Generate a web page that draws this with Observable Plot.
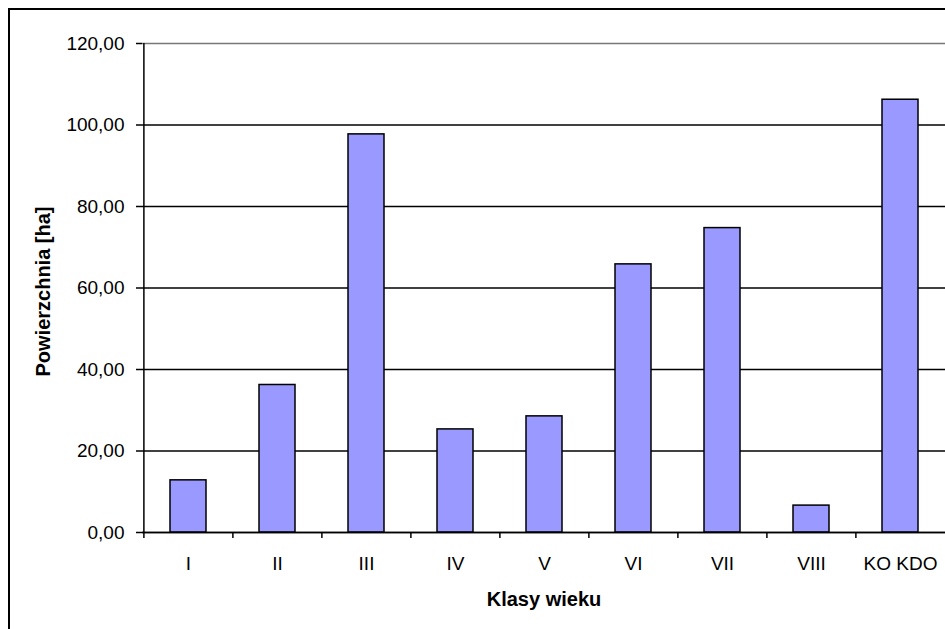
<!DOCTYPE html>
<html><head><meta charset="utf-8">
<script src="https://cdn.jsdelivr.net/npm/d3@7"></script>
<script src="https://cdn.jsdelivr.net/npm/@observablehq/plot@0.6"></script>
<style>
html,body{margin:0;padding:0;background:#fff;}
#wrap{position:relative;width:945px;height:629px;overflow:hidden;background:#fff;}
#wrap svg{position:absolute;left:0;top:0;}
#border{position:absolute;left:8px;top:8px;width:2000px;height:2000px;border-left:2px solid #000;border-top:2px solid #000;pointer-events:none;}
</style></head><body><div id="wrap"></div>
<script>
const categories = ["I", "II", "III", "IV", "V", "VI", "VII", "VIII", "KO KDO"];
const values = [12.8, 36.2, 97.7, 25.3, 28.5, 65.8, 74.7, 6.6, 106.2];
const yTicks = [0, 20, 40, 60, 80, 100, 120];
const xTitle = "Klasy wieku";
const yTitle = "Powierzchnia [ha]";

const data = categories.map((c, i) => ({c, v: values[i]}));
const W = 945, H = 629, mL = 142, mR = 0, mT = 43, mB = 97;
const half = (W - mL - mR) / categories.length / 2;
const fmt = d => d.toFixed(2).replace(".", ",");
const font = "Arial, 'Liberation Sans', sans-serif";

const chart = Plot.plot({
  width: W, height: H,
  marginLeft: mL, marginRight: mR, marginTop: mT, marginBottom: mB,
  style: {fontFamily: font, fontSize: "19px", color: "#000", background: "transparent", overflow: "visible"},
  x: {domain: categories, paddingInner: 0.6, paddingOuter: 0.3, label: null},
  y: {domain: [0, 120], label: null},
  marks: [
    Plot.gridY(yTicks, {stroke: d => d === 120 ? "#777" : "#000", strokeOpacity: 1, strokeWidth: 1.5}),
    Plot.barY(data, {x: "c", y: "v", fill: "#9999FF", stroke: "#000", strokeWidth: 1.5}),
    Plot.ruleY([0], {stroke: "#000", strokeWidth: 1.5}),
    Plot.ruleX(categories.slice(0, 1), {x: d => d, dx: -half, y1: 0, y2: 120, stroke: "#000", strokeWidth: 1.5}),
    Plot.ruleX(categories, {x: d => d, dx: -half, y1: 0, y2: 0, insetBottom: -6, stroke: "#000", strokeWidth: 1.5}),
    Plot.axisY({ticks: yTicks, tickFormat: fmt, tickSize: 6, tickPadding: 12, stroke: "#000", strokeWidth: 1.5, fill: "#000", fontSize: 19, label: null}),
    Plot.axisX({tickSize: 0, tickPadding: 23.5, fill: "#000", fontSize: 19, label: null}),
    Plot.text([xTitle], {frameAnchor: "bottom", text: d => d, dy: 67, lineAnchor: "middle", fontWeight: "bold", fontSize: 20, fill: "#000"}),
    Plot.text([yTitle], {frameAnchor: "left", text: d => d, dx: -99, dy: 3.5, rotate: -90, textAnchor: "middle", lineAnchor: "middle", fontWeight: "bold", fontSize: 20, fill: "#000"})
  ]
});
const wrap = document.getElementById("wrap");
wrap.appendChild(chart);
const b = document.createElement("div"); b.id = "border"; wrap.appendChild(b);
</script></body></html>
